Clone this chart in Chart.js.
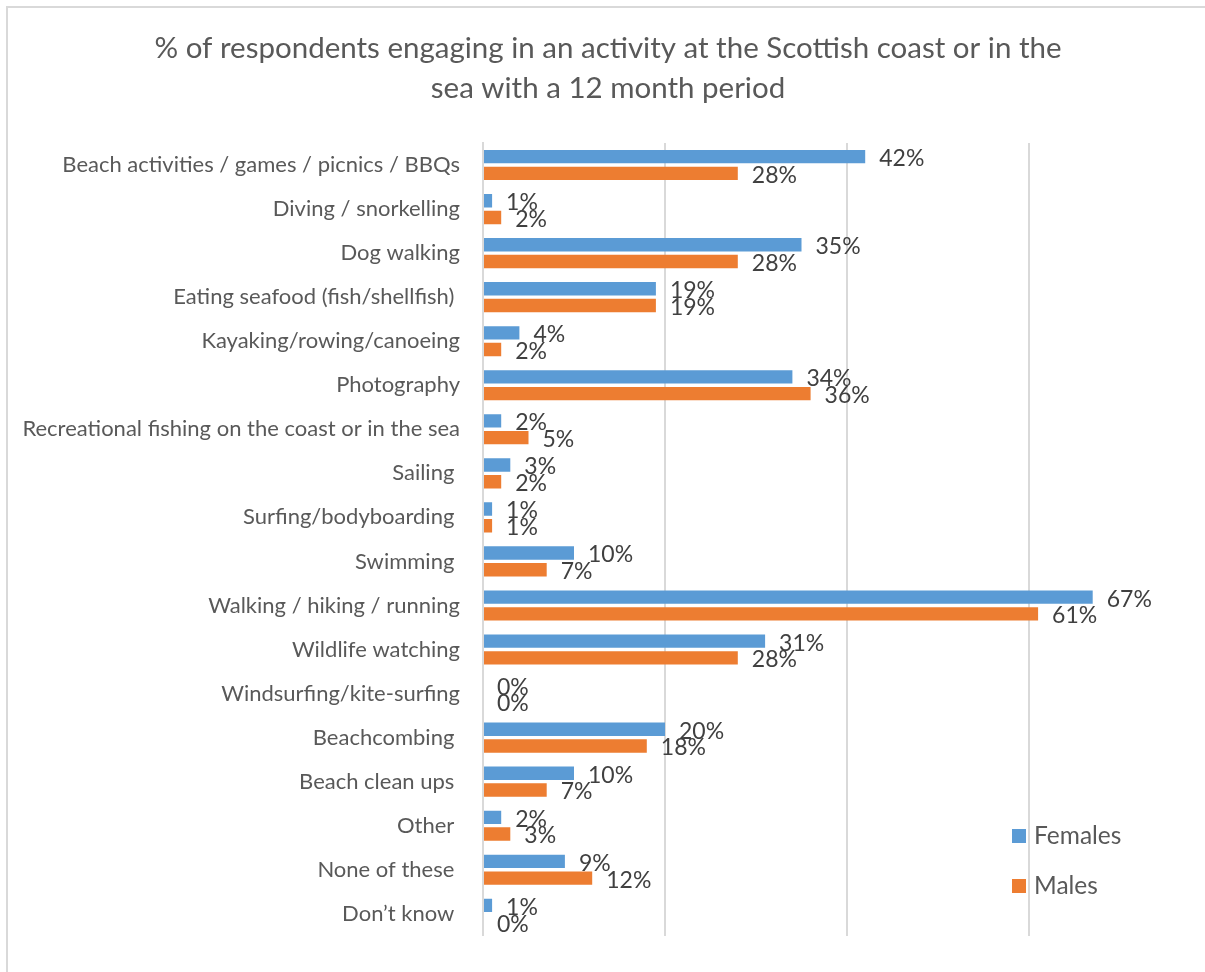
<!DOCTYPE html>
<html lang="en">
<head>
    <meta charset="UTF-8">
    <title>Coastal activities by gender</title>
    <script src="https://cdn.jsdelivr.net/npm/chart.js"></script>
    <style>
        body {
            margin: 0;
            background: #fff;
            font-family: Lato, Arial, sans-serif;
        }
        #frame {
            position: absolute;
            left: 6px;
            top: 6px;
            width: 1300px;
            height: 1100px;
            border-left: 2px solid #d9d9d9;
            border-top: 2px solid #d9d9d9;
        }
        #chart-box {
            position: absolute;
            left: 0;
            top: 0;
            width: 1205px;
            height: 972px;
        }
    </style>
</head>
<body>
    <div id="frame"></div>
    <div id="chart-box">
        <canvas id="activityChart" width="1205" height="972"></canvas>
    </div>

    <script>
        const activities = [
            'Beach activities / games / picnics / BBQs',
            'Diving / snorkelling',
            'Dog walking',
            'Eating seafood (fish/shellfish) ',
            'Kayaking/rowing/canoeing',
            'Photography',
            'Recreational fishing on the coast or in the sea',
            'Sailing ',
            'Surfing/bodyboarding ',
            'Swimming ',
            'Walking / hiking / running',
            'Wildlife watching',
            'Windsurfing/kite-surfing',
            'Beachcombing ',
            'Beach clean ups ',
            'Other ',
            'None of these ',
            'Don\u2019t know '
        ];
        const females = [42, 1, 35, 19, 4, 34, 2, 3, 1, 10, 67, 31, 0, 20, 10, 2, 9, 1];
        const males   = [28, 2, 28, 19, 2, 36, 5, 2, 1, 7, 61, 28, 0, 18, 7, 3, 12, 0];
        const xTicks  = [0, 20, 40, 60];
        const titleLines = [
            '% of respondents engaging in an activity at the Scottish coast or in the',
            'sea with a 12 month period'
        ];

        const BLUE = '#5b9bd5';
        const ORANGE = '#ed7d31';
        const FONT = 'Lato, Arial, sans-serif';

        // two-line heading centred on the whole canvas
        const heading = {
            id: 'heading',
            afterDraw(chart) {
                const ctx = chart.ctx;
                ctx.save();
                ctx.font = '29.5px ' + FONT;
                ctx.fillStyle = '#595959';
                ctx.textAlign = 'center';
                ctx.textBaseline = 'middle';
                titleLines.forEach((line, i) => ctx.fillText(line, 608, 48 + i * 40));
                ctx.restore();
            }
        };

        // value labels to the right of each bar
        const barLabels = {
            id: 'barLabels',
            afterDatasetsDraw(chart) {
                const ctx = chart.ctx;
                ctx.save();
                ctx.font = '23px ' + FONT;
                ctx.fillStyle = '#404040';
                ctx.textAlign = 'left';
                ctx.textBaseline = 'middle';
                chart.data.datasets.forEach((ds, i) => {
                    chart.getDatasetMeta(i).data.forEach((bar, j) => {
                        ctx.fillText(ds.data[j] + '%', bar.x + 14, bar.y + 2);
                    });
                });
                ctx.restore();
            }
        };

        // legend sitting inside the plot, lower right
        const boxLegend = {
            id: 'boxLegend',
            afterDraw(chart) {
                const ctx = chart.ctx;
                ctx.save();
                ctx.font = '24.5px ' + FONT;
                ctx.textAlign = 'left';
                ctx.textBaseline = 'middle';
                chart.data.datasets.forEach((ds, i) => {
                    const y = 836 + i * 50;
                    ctx.fillStyle = ds.backgroundColor;
                    ctx.fillRect(1012, y - 7, 14, 14);
                    ctx.fillStyle = '#595959';
                    ctx.fillText(ds.label, 1034, y);
                });
                ctx.restore();
            }
        };

        new Chart(document.getElementById('activityChart'), {
            type: 'bar',
            data: {
                labels: activities,
                datasets: [
                    { label: 'Females', data: females, backgroundColor: BLUE },
                    { label: 'Males', data: males, backgroundColor: ORANGE }
                ]
            },
            options: {
                indexAxis: 'y',
                responsive: false,
                animation: false,
                layout: { padding: { left: 0, right: 85, top: 143, bottom: 27 } },
                datasets: {
                    bar: { categoryPercentage: 0.76, barPercentage: 0.8 }
                },
                plugins: {
                    legend: { display: false },
                    tooltip: { enabled: false },
                    title: { display: false }
                },
                scales: {
                    x: {
                        min: 0,
                        max: 70,
                        afterBuildTicks(scale) {
                            scale.ticks = xTicks.map(v => ({ value: v }));
                        },
                        ticks: { display: false },
                        border: { display: false },
                        grid: { color: '#d9d9d9', lineWidth: 2, drawTicks: false }
                    },
                    y: {
                        afterFit(scale) { scale.width = 483; },
                        ticks: {
                            color: '#595959',
                            padding: 23,
                            font: { family: FONT, size: 22 },
                            autoSkip: false
                        },
                        grid: { display: false, drawTicks: false },
                        border: { display: true, color: '#d9d9d9', width: 2 }
                    }
                }
            },
            plugins: [heading, barLabels, boxLegend]
        });
    </script>
</body>
</html>
